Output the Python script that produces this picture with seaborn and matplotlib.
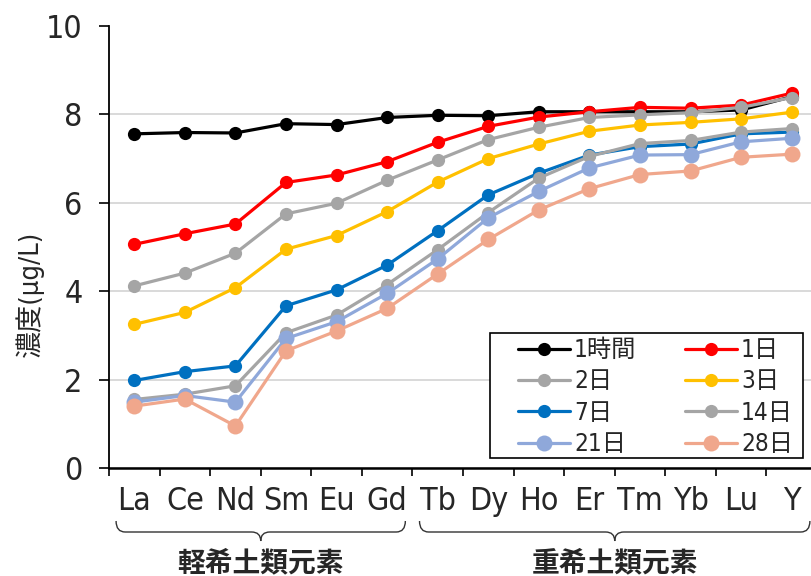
import matplotlib
matplotlib.use("Agg")
import matplotlib.pyplot as plt
import seaborn as sns
from matplotlib.path import Path
from matplotlib.patches import PathPatch, Rectangle
from matplotlib.transforms import blended_transform_factory
import matplotlib.ticker as mticker

# --- data -----------------------------------------------------------------
elements = ["La", "Ce", "Nd", "Sm", "Eu", "Gd", "Tb", "Dy", "Ho", "Er", "Tm", "Yb", "Lu", "Y"]
series_names = ["1時間", "1日", "2日", "3日", "7日", "14日", "21日", "28日"]

conc_1h = [7.56, 7.59, 7.58, 7.79, 7.77, 7.93, 7.98, 7.97, 8.06, 8.06, 8.06, 8.06, 8.10, 8.40]
conc_1d = [5.06, 5.30, 5.52, 6.46, 6.63, 6.93, 7.37, 7.73, 7.94, 8.06, 8.16, 8.14, 8.21, 8.48]
conc_2d = [4.12, 4.41, 4.86, 5.75, 5.99, 6.51, 6.97, 7.43, 7.71, 7.93, 7.99, 8.04, 8.16, 8.38]
conc_3d = [3.25, 3.52, 4.08, 4.95, 5.26, 5.80, 6.47, 7.00, 7.33, 7.62, 7.76, 7.82, 7.90, 8.05]
conc_7d = [1.98, 2.18, 2.31, 3.67, 4.03, 4.59, 5.37, 6.18, 6.67, 7.08, 7.27, 7.33, 7.56, 7.60]
conc_14d = [1.55, 1.67, 1.86, 3.06, 3.46, 4.15, 4.94, 5.78, 6.56, 7.05, 7.34, 7.41, 7.60, 7.68]
conc_21d = [1.49, 1.64, 1.49, 2.93, 3.31, 3.95, 4.73, 5.66, 6.26, 6.79, 7.08, 7.09, 7.38, 7.46]
conc_28d = [1.40, 1.56, 0.95, 2.65, 3.10, 3.61, 4.39, 5.17, 5.84, 6.32, 6.64, 6.72, 7.03, 7.10]

group_labels = ["軽希土類元素", "重希土類元素"]
group_ranges = [(0, 5), (6, 13)]

y_ticks = [0, 2, 4, 6, 8, 10]

# --- styling --------------------------------------------------------------
sns.set_theme(style="white")
plt.rcParams["font.family"] = ["DejaVu Sans", "Noto Sans CJK JP"]
plt.rcParams["font.stretch"] = "condensed"

colors = ["#000000", "#FF0000", "#A5A5A5", "#FFC000", "#0070C0", "#A5A5A5", "#8FA8DA", "#F0A78C"]
marker_sizes = [9.5, 9.5, 9.5, 9.5, 9.5, 9.5, 11.5, 11.5]
all_series = [conc_1h, conc_1d, conc_2d, conc_3d, conc_7d, conc_14d, conc_21d, conc_28d]

fig = plt.figure(figsize=(8.12, 5.76), dpi=100)
ax = fig.add_axes([109 / 812, 108 / 576, 708 / 812, 442 / 576])

for name, vals, col, ms in zip(series_names, all_series, colors, marker_sizes):
    sns.lineplot(x=elements, y=vals, ax=ax, color=col, marker="o", markersize=ms,
                 markeredgewidth=0, linewidth=2.3, label=name, sort=False)

ax.set_xlim(-0.5, 13.5)
ax.set_ylim(0, 10)
ax.set_yticks(y_ticks)
ax.set_xticks(range(len(elements)))
ax.set_xticklabels(elements)
ax.xaxis.set_minor_locator(mticker.FixedLocator([i - 0.5 for i in range(len(elements))]))
ax.tick_params(axis="x", which="major", length=0, pad=13, labelsize=23)
ax.tick_params(axis="x", which="minor", length=6, width=1.2, color="black", direction="out", bottom=True)
ax.tick_params(axis="y", which="major", length=7, width=1.2, color="black", direction="out",
               left=True, pad=12, labelsize=23)
ax.set_xlabel("")
ax.set_ylabel("")

ax.yaxis.grid(True, color="#D9D9D9", linewidth=1.4)
ax.set_axisbelow(True)
ax.yaxis.get_gridlines()[-1].set_visible(False)

for side in ["top", "right"]:
    ax.spines[side].set_visible(False)
ax.spines["left"].set_color("black")
ax.spines["left"].set_linewidth(1.3)
ax.spines["bottom"].set_color("black")
ax.spines["bottom"].set_linewidth(1.8)

fig.text(30 / 812, 1 - 294 / 576, "濃度(μg/L)", rotation=90, ha="center", va="center",
         fontsize=19.5)

# legend, filled row by row, inside a hand-placed frame
handles, labels = ax.get_legend_handles_labels()
order = [0, 2, 4, 6, 1, 3, 5, 7]
leg = ax.legend([handles[i] for i in order], [labels[i] for i in order], ncol=2,
                loc="lower left", bbox_to_anchor=(0.571, 0.016), fontsize=17.5,
                frameon=False, handlelength=2.15, handletextpad=0.15, columnspacing=2.0,
                labelspacing=0.3, borderpad=0.2, borderaxespad=0)
frame = Rectangle(((490 - 109) / 708, (468 - 458) / 442), (803 - 490) / 708, (458 - 333) / 442,
                  transform=ax.transAxes, facecolor="white", edgecolor="black",
                  linewidth=1.2, zorder=4)
ax.add_patch(frame)
leg.set_zorder(5)

# curly braces grouping the light and heavy elements
trans = blended_transform_factory(ax.transData, fig.transFigure)


def brace(x0, x1, y_top, y_mid, y_tip, r=0.18):
    xm = (x0 + x1) / 2
    verts = [(x0, y_top), (x0, y_mid), (x0 + r, y_mid),
             (xm - r, y_mid),
             (xm, y_mid), (xm, y_tip),
             (xm, y_mid), (xm + r, y_mid),
             (x1 - r, y_mid),
             (x1, y_mid), (x1, y_top)]
    codes = [Path.MOVETO, Path.CURVE3, Path.CURVE3,
             Path.LINETO,
             Path.CURVE3, Path.CURVE3,
             Path.CURVE3, Path.CURVE3,
             Path.LINETO,
             Path.CURVE3, Path.CURVE3]
    patch = PathPatch(Path(verts, codes), transform=trans, facecolor="none",
                      edgecolor="#333333", linewidth=1.0, clip_on=False)
    fig.add_artist(patch)


for (i0, i1), lab in zip(group_ranges, group_labels):
    brace(i0 - 0.36, i1 + 0.36, 1 - 521 / 576, 1 - 532 / 576, 1 - 541 / 576)
    t = fig.text(0, 1 - 563 / 576, lab, transform=trans, fontsize=20, fontweight="bold",
                 ha="center", va="center", family=["Noto Sans CJK JP", "DejaVu Sans"])
    t.set_x((i0 + i1) / 2)

fig.savefig("out.png", dpi=100)
